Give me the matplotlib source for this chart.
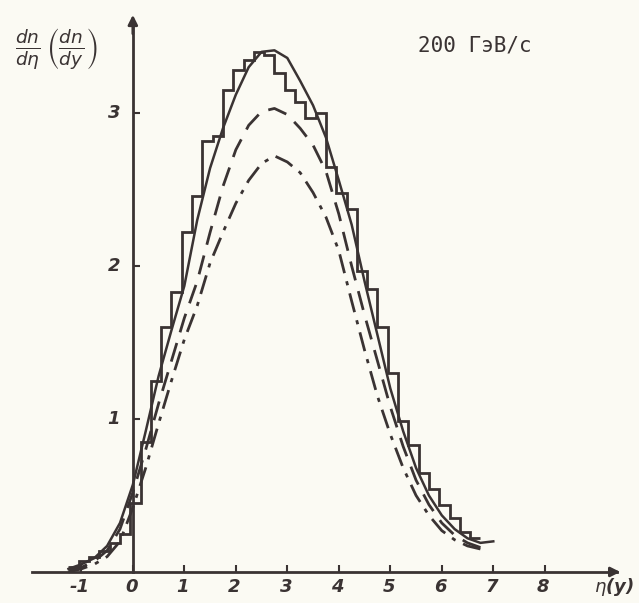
import numpy as np
import matplotlib.pyplot as plt

# histogram (bin edges and heights)
hist_edges = [-1.25, -1.05, -0.85, -0.65, -0.45, -0.25, -0.05, 0.15, 0.35, 0.55,
              0.75, 0.95, 1.15, 1.35, 1.55, 1.75, 1.95, 2.15, 2.35, 2.55,
              2.75, 2.95, 3.15, 3.35, 3.55, 3.75, 3.95, 4.15, 4.35, 4.55,
              4.75, 4.95, 5.15, 5.35, 5.55, 5.75, 5.95, 6.15, 6.35, 6.55, 6.75]
hist_vals = [0.03, 0.07, 0.10, 0.14, 0.19, 0.25, 0.45, 0.85, 1.25, 1.60,
             1.83, 2.22, 2.46, 2.82, 2.85, 3.15, 3.28, 3.35, 3.40, 3.38,
             3.26, 3.15, 3.07, 2.97, 3.00, 2.65, 2.48, 2.37, 1.97, 1.85,
             1.60, 1.30, 0.99, 0.83, 0.65, 0.54, 0.44, 0.35, 0.26, 0.22]

eta = [-1.25, -1.0, -0.75, -0.5, -0.25, 0.0, 0.25, 0.5, 0.75, 1.0, 1.25, 1.5,
       1.75, 2.0, 2.25, 2.5, 2.75, 3.0, 3.25, 3.5, 3.75, 4.0, 4.25, 4.5,
       4.75, 5.0, 5.25, 5.5, 5.75, 6.0, 6.25, 6.5, 6.75, 7.0]
solid = [0.02, 0.05, 0.09, 0.17, 0.32, 0.57, 0.92, 1.28, 1.58, 1.87, 2.30, 2.64,
         2.90, 3.12, 3.30, 3.40, 3.41, 3.36, 3.21, 3.05, 2.84, 2.56, 2.27, 1.90,
         1.55, 1.20, 0.92, 0.68, 0.50, 0.37, 0.28, 0.22, 0.19, 0.20]
dashed = [0.01, 0.03, 0.07, 0.14, 0.28, 0.52, 0.80, 1.10, 1.38, 1.66, 1.90, 2.22,
          2.52, 2.76, 2.92, 3.01, 3.03, 2.99, 2.90, 2.79, 2.62, 2.34, 2.00, 1.68,
          1.38, 1.08, 0.82, 0.60, 0.44, 0.32, 0.24, 0.19, 0.16]
dashdot = [0.0, 0.02, 0.05, 0.10, 0.20, 0.42, 0.68, 0.97, 1.25, 1.52, 1.74, 2.02,
           2.22, 2.41, 2.56, 2.67, 2.72, 2.68, 2.61, 2.48, 2.32, 2.10, 1.77, 1.45,
           1.15, 0.90, 0.68, 0.50, 0.37, 0.27, 0.21, 0.17, 0.15]

xticks = [-1, 0, 1, 2, 3, 4, 5, 6, 7, 8]
yticks = [1, 2, 3]

ink = '#3a3333'
bg = '#fbfaf3'

fig = plt.figure(figsize=(6.39, 6.03), dpi=100, facecolor=bg)
ax = fig.add_axes([0, 0, 1, 1], facecolor=bg)
ax.set_xlim(-2.58, 9.83)
ax.set_ylim(-0.203, 3.739)

# histogram
ax.stairs(hist_vals, hist_edges, color=ink, lw=2.0, baseline=None)

# curves
ax.plot(eta, solid, color=ink, lw=1.8)
ax.plot(eta[:len(dashed)], dashed, color=ink, lw=2.0, dashes=(7, 4))
ax.plot(eta[:len(dashdot)], dashdot, color=ink, lw=2.0, dashes=(7, 3, 1.5, 3))

# axes with arrows
for s in ['top', 'right']:
    ax.spines[s].set_visible(False)
ax.spines['left'].set_position(('data', 0))
ax.spines['bottom'].set_position(('data', 0))
ax.spines['left'].set_bounds(0, 3.6)
ax.spines['bottom'].set_bounds(-1.95, 9.4)
ax.spines['left'].set_color(ink)
ax.spines['bottom'].set_color(ink)
ax.spines['left'].set_linewidth(2)
ax.spines['bottom'].set_linewidth(2)
ax.annotate('', xy=(9.52, 0), xytext=(9.2, 0),
            arrowprops=dict(arrowstyle='-|>', color=ink, lw=2, mutation_scale=14))
ax.annotate('', xy=(0, 3.66), xytext=(0, 3.5),
            arrowprops=dict(arrowstyle='-|>', color=ink, lw=2, mutation_scale=14))

ax.set_xticks(xticks)
ax.set_yticks(yticks)
ax.set_xticklabels([])
ax.set_yticklabels([])
ax.tick_params(axis='x', direction='in', length=5, width=1.5, color=ink)
ax.tick_params(axis='y', direction='in', length=5, width=1.5, color=ink)

lab = dict(color=ink, fontsize=13, fontstyle='italic', fontweight='bold')
for t in xticks:
    ax.text(t - 0.03, -0.1, str(t), ha='center', va='center', **lab)
for t in yticks:
    ax.text(-0.37, t, str(t), ha='center', va='center', **lab)
ax.text(9.35, -0.1, r'$\eta$(y)', ha='center', va='center', **lab)

ax.text(-1.48, 3.42, r'$\frac{dn}{d\eta}\,\left(\frac{dn}{dy}\right)$',
        ha='center', va='center', color=ink, fontsize=19)
ax.text(6.65, 3.44, '200 ГэВ/с', ha='center', va='center', color=ink,
        fontsize=15, family='DejaVu Sans Mono')

fig.savefig('out.png', dpi=100, facecolor=bg)
